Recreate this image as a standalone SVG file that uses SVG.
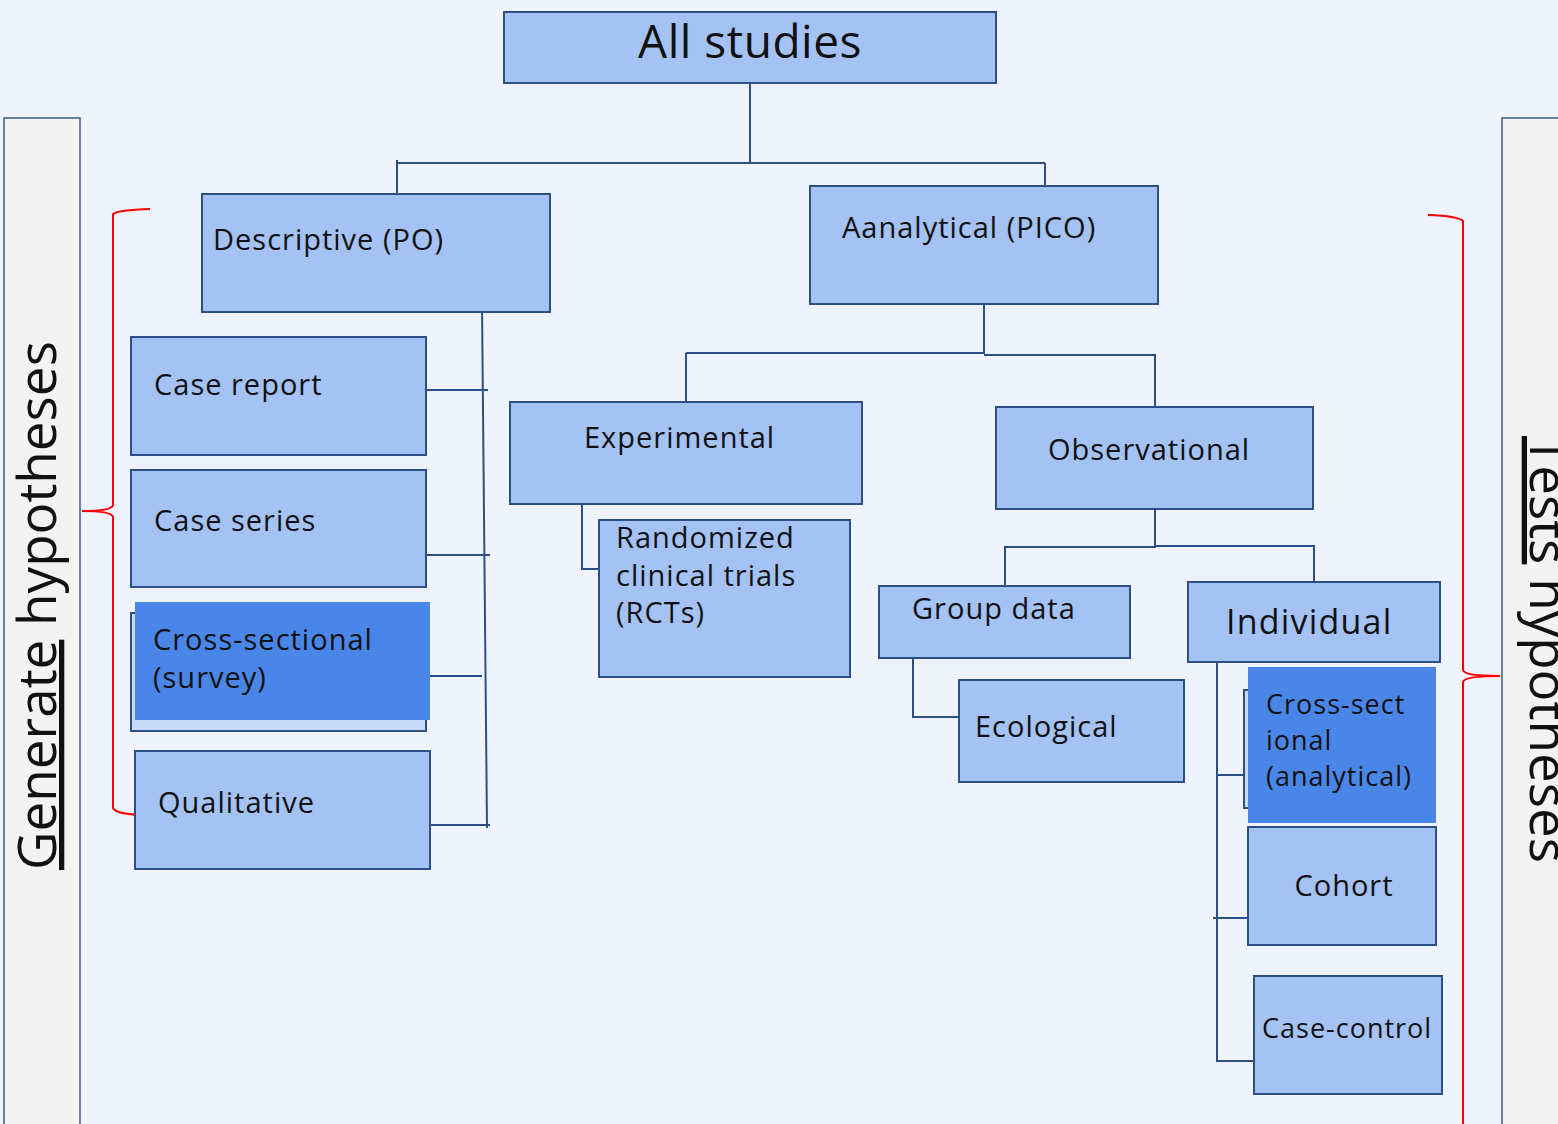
<svg xmlns="http://www.w3.org/2000/svg" width="1558" height="1124" viewBox="0 0 1558 1124">
<style>
.bg{fill:#EFF3FD}
.box{fill:#A4C2F4;stroke:#2B4F86;stroke-width:2}
.back{fill:#C9DAF8;stroke:#2B4F86;stroke-width:2}
.dark{fill:#4A86E8}
.panel{fill:#F3F3F3;stroke:#3A5D8E;stroke-width:1.5}
.t{font-family:"Open Sans","Liberation Sans",sans-serif;font-size:29px;letter-spacing:1px;fill:#111}
.side{font-family:"Open Sans","Liberation Sans",sans-serif;font-size:53px;fill:#111}
.c{fill:none;stroke:#2B4F86;stroke-width:2}
.brace{fill:none;stroke:#FF0000;stroke-width:2}
</style>
<rect class="bg" x="0" y="0" width="1558" height="1124"/>
<g id="panel-left">
<rect class="panel" x="4" y="118" width="76" height="1010"/>
<text class="side" transform="translate(56,870) rotate(-90)"><tspan text-decoration="underline">Generate</tspan> hypotheses</text>
</g>
<g id="panel-right">
<rect class="panel" x="1502" y="118" width="60" height="1010"/>
<text class="side" transform="translate(1530,436) rotate(90)"><tspan text-decoration="underline">Tests</tspan> hypotheses</text>
</g>
<g id="braces">
<path class="brace" d="M150,209 Q118,210 113,214 L113,505 Q112,511 82,511 Q112,511 113,517 L113,808 Q116,815 150,815"/>
<path class="brace" d="M1428,215 Q1458,216 1463,221 L1463,670 Q1464,676 1500,676 Q1464,676 1463,682 L1463,1124"/>
</g>
<g id="connectors">
<path class="c" d="M750,83 V163 M397,163 H1045 M397,160 V194 M1045,163 V186"/>
<path class="c" d="M482,305 L487,828 M426,390 H488 M426,555 H490 M430,676 H482 M430,825 H490"/>
<path class="c" d="M984,304 V354 M686,353 H984 M686,353 V402 M984,355 H1155 V407"/>
<path class="c" d="M582,491 V569 H599"/>
<path class="c" d="M1155,509 V547 H1005 V586 M1155,546 H1314 V582"/>
<path class="c" d="M913,658 V717 H959"/>
<path class="c" d="M1217,662 V1061 H1254 M1217,775 H1244 M1213,918 H1248"/>
</g>
<g id="all-studies">
<rect class="box" x="504" y="12" width="492" height="71"/>
<text class="t" x="750" y="58" style="font-size:46px;letter-spacing:0.5px" text-anchor="middle">All studies</text>
</g>
<g id="descriptive">
<rect class="box" x="202" y="194" width="348" height="118"/>
<text class="t" x="213" y="250">Descriptive (PO)</text>
</g>
<g id="analytical">
<rect class="box" x="810" y="186" width="348" height="118"/>
<text class="t" x="842" y="238">Aanalytical (PICO)</text>
</g>
<g id="case-report">
<rect class="box" x="131" y="337" width="295" height="118"/>
<text class="t" x="154" y="395">Case report</text>
</g>
<g id="case-series">
<rect class="box" x="131" y="470" width="295" height="117"/>
<text class="t" x="154" y="531">Case series</text>
</g>
<g id="cross-sectional-survey">
<rect class="back" x="131" y="613" width="295" height="118"/>
<rect class="dark" x="135" y="602" width="295" height="118"/>
<text class="t" x="153" y="650">Cross-sectional</text>
<text class="t" x="153" y="688">(survey)</text>
</g>
<g id="qualitative">
<rect class="box" x="135" y="751" width="295" height="118"/>
<text class="t" x="158" y="813">Qualitative</text>
</g>
<g id="experimental">
<rect class="box" x="510" y="402" width="352" height="102"/>
<text class="t" x="584" y="448">Experimental</text>
</g>
<g id="rct">
<rect class="box" x="599" y="520" width="251" height="157"/>
<text class="t" x="616" y="548">Randomized</text>
<text class="t" x="616" y="586">clinical trials</text>
<text class="t" x="616" y="623">(RCTs)</text>
</g>
<g id="observational">
<rect class="box" x="996" y="407" width="317" height="102"/>
<text class="t" x="1048" y="460">Observational</text>
</g>
<g id="group-data">
<rect class="box" x="879" y="586" width="251" height="72"/>
<text class="t" x="912" y="619">Group data</text>
</g>
<g id="ecological">
<rect class="box" x="959" y="680" width="225" height="102"/>
<text class="t" x="975" y="737">Ecological</text>
</g>
<g id="individual">
<rect class="box" x="1188" y="582" width="252" height="80"/>
<text class="t" x="1226" y="634" style="font-size:34px;letter-spacing:1.2px">Individual</text>
</g>
<g id="cross-sectional-analytical">
<rect class="back" x="1244" y="690" width="20" height="118"/>
<rect class="dark" x="1248" y="667" width="188" height="156"/>
<text class="t" x="1266" y="714" style="font-size:27px">Cross-sect</text>
<text class="t" x="1266" y="750" style="font-size:27px">ional</text>
<text class="t" x="1266" y="786" style="font-size:27px">(analytical)</text>
</g>
<g id="cohort">
<rect class="box" x="1248" y="827" width="188" height="118"/>
<text class="t" x="1344" y="896" text-anchor="middle">Cohort</text>
</g>
<g id="case-control">
<rect class="box" x="1254" y="976" width="188" height="118"/>
<text class="t" x="1262" y="1038" style="font-size:27px">Case-control</text>
</g>
</svg>
